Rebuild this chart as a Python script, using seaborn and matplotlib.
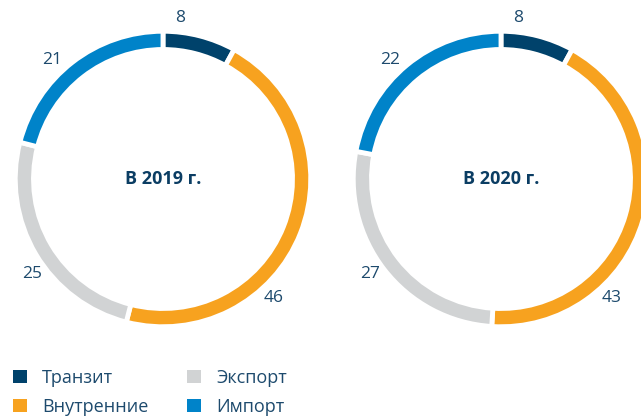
import matplotlib
matplotlib.use('Agg')

import matplotlib.pyplot as plt
import seaborn as sns
from matplotlib.patches import Patch
import numpy as np

# data
categories = ['Транзит', 'Внутренние', 'Экспорт', 'Импорт']
colors = ['#00426b', '#f7a21f', '#d1d3d4', '#0083c9']
years = ['В 2019 г.', 'В 2020 г.']
values_2019 = [8, 46, 25, 21]
values_2020 = [8, 43, 27, 22]
label_angles = [84, -47, 216, 133]  # where the number sits around the ring

sns.set_theme(style='white')
plt.rcParams['font.family'] = ['Open Sans', 'DejaVu Sans']
navy = '#1d4a6d'

fig = plt.figure(figsize=(6.41, 4.19), dpi=100)

# ring centres and radius in pixels
W, H = 641, 419
R = 146
centers = [(163, 179), (501, 179)]

for (cx, cy), year, vals in zip(centers, years, [values_2019, values_2020]):
    ax = fig.add_axes([(cx - R) / W, (H - cy - R) / H, 2 * R / W, 2 * R / H])
    ax.pie(vals, colors=colors, startangle=90, counterclock=False, radius=1.012,
           wedgeprops=dict(width=0.125, edgecolor='white', linewidth=3.5))
    ax.set_xlim(-1, 1)
    ax.set_ylim(-1, 1)
    ax.set_aspect('equal')
    ax.axis('off')
    ax.text(0, 0, year, ha='center', va='center', fontsize=13,
            fontweight='bold', color='#0b3d63')
    for v, a in zip(vals, label_angles):
        r = 1.11
        ax.text(r * np.cos(np.radians(a)), r * np.sin(np.radians(a)), str(v),
                ha='center', va='center', fontsize=12.5, color=navy, clip_on=False)

handles = [Patch(facecolor=c, edgecolor='none') for c in colors]
leg = fig.legend(handles, categories, ncol=2, loc='lower left',
                 bbox_to_anchor=(13 / W, 0.008), frameon=False, fontsize=13,
                 borderpad=0, borderaxespad=0,
                 handlelength=0.78, handleheight=0.78, handletextpad=0.83,
                 columnspacing=2.15, labelspacing=0.6)
for t in leg.get_texts():
    t.set_color(navy)

fig.savefig('out.png', dpi=100)
